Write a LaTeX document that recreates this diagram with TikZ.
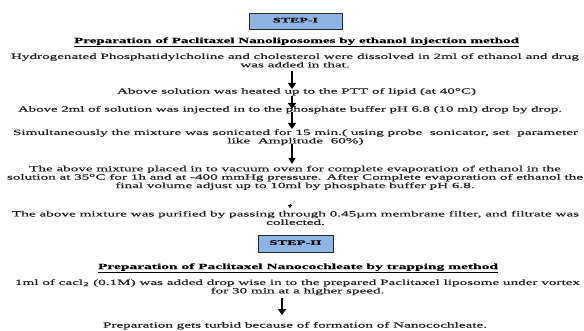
\documentclass[tikz,border=0pt]{standalone}
\usepackage{fontspec}
\usepackage{graphicx}
\setmainfont{Liberation Serif}[FakeStretch=1.8,FakeBold=0.3]
\usetikzlibrary{arrows.meta}
\definecolor{boxblue}{HTML}{8EB4E3}
\definecolor{txt}{HTML}{1E1E1E}
\newcommand{\fitw}[2]{\resizebox{#1}{\height}{\begin{tabular}{@{}c@{}}#2\end{tabular}}}
\tikzset{
  body/.style={font=\fontsize{8}{8.4}\selectfont, text=txt, align=center, inner sep=0pt},
  head/.style={font=\fontsize{8}{8.4}\selectfont\bfseries, text=black, inner sep=0pt},
  stepbox/.style={draw=black!85, line width=0.9pt, fill=boxblue, font=\fontsize{6.8}{7}\selectfont\bfseries, inner sep=0pt},
  arr/.style={line width=1.8pt, -{Triangle[length=6pt,width=8pt]}},
  arrthin/.style={line width=1.1pt, -{Triangle[length=6pt,width=7pt]}},
}
\begin{document}
\begin{tikzpicture}[x=1pt,y=-1pt]
\useasboundingbox (0,0) rectangle (584,331);
\node[stepbox, minimum width=93pt, minimum height=16pt] (s1) at (295.5,21) {\fitw{45pt}{STEP-I}};
\node[head] (h1) at (296.5,42) {\fitw{445pt}{\underline{Preparation of Paclitaxel Nanoliposomes by ethanol injection method}}};
\node[body] (t1) at (295,61.5) {\fitw{568pt}{Hydrogenated Phosphatidylcholine and cholesterol were dissolved in 2ml of ethanol and drug\\was added in that.}};
\node[body] (t2) at (296.5,92) {\fitw{359pt}{Above solution was heated up to the PTT of lipid (at 40°C)}};
\node[body] (t3) at (290,110) {\fitw{544pt}{Above 2ml of solution was injected in to the phosphate buffer pH 6.8 (10 ml) drop by drop.}};
\node[body] (t4) at (295.5,137.5) {\fitw{565pt}{Simultaneously the mixture was sonicated for 15 min.( using probe\ \ sonicator, set\ \ parameter\\like\ \ Amplitude\ \ 60\%)}};
\node[body] (t5) at (295,178) {\fitw{576pt}{The above mixture placed in to vacuum oven for complete evaporation of ethanol in the\\solution at 35\textsuperscript{o}C for 1h and at -400 mmHg pressure. After Complete evaporation of ethanol the\\final volume adjust up to 10ml by phosphate buffer pH 6.8.}};
\node[body] (t6) at (295.5,219) {\fitw{567pt}{The above mixture was purified by passing through 0.45µm membrane filter, and filtrate was\\collected.}};
\node[stepbox, minimum width=75pt, minimum height=17pt] (s2) at (295.5,243.5) {\fitw{52pt}{STEP-II}};
\node[head] (h2) at (298,268) {\fitw{400pt}{\underline{Preparation of Paclitaxel Nanocochleate by trapping method}}};
\node[body] (t7) at (297.5,287.5) {\fitw{565pt}{1ml of cacl\textsubscript{2} (0.1M) was added drop wise in to the prepared Paclitaxel liposome under vortex\\for 30 min at a higher speed.}};
\node[body] (t8) at (295,326) {\fitw{384pt}{Preparation gets turbid because of formation of Nanocochleate.}};
\coordinate (a1s) at (292,71); \coordinate (a1e) at (292,89);
\coordinate (a2s) at (292,96); \coordinate (a2e) at (292,109);
\coordinate (a3s) at (292,112); \coordinate (a3e) at (292,129);
\coordinate (a4s) at (292,144); \coordinate (a4e) at (292,164);
\coordinate (a5s) at (290,204); \coordinate (a5e) at (290,208);
\coordinate (a6s) at (282,298); \coordinate (a6e) at (282,315);
\draw[arr] (a1s) -- (a1e);
\draw[arr] (a2s) -- (a2e);
\draw[arr] (a3s) -- (a3e);
\draw[arrthin] (a4s) -- (a4e);
\draw[line width=0.5pt, -{Triangle[length=3pt,width=4pt]}] (a5s) -- (a5e);
\draw[arr] (a6s) -- (a6e);
\end{tikzpicture}
\end{document}
